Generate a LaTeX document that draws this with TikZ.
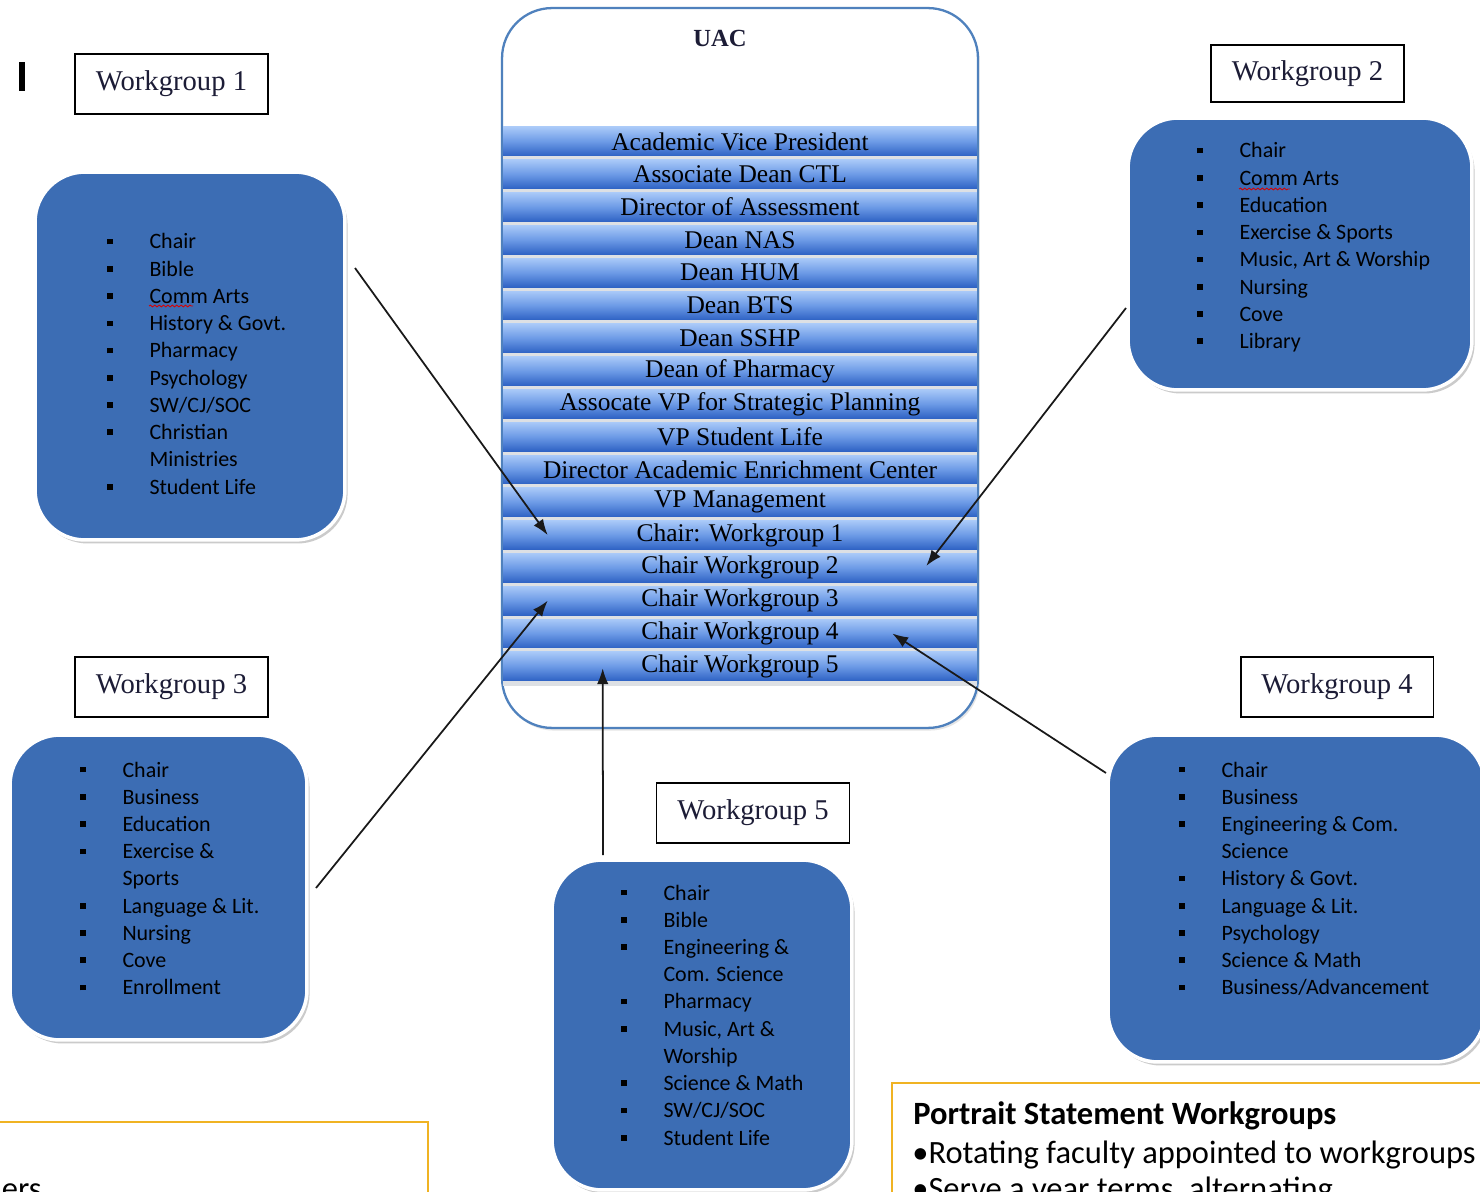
\documentclass[tikz,border=0pt]{standalone}
\usepackage{fontspec}
\setmainfont{Liberation Serif}
\setsansfont{Carlito}
\usetikzlibrary{arrows.meta,calc,positioning,shadows,decorations.pathmorphing}
\definecolor{boxblue}{HTML}{3C6DB4}
\definecolor{uacblue}{HTML}{4F81BD}
\definecolor{stripetop}{HTML}{A9C9F8}
\definecolor{stripemid}{HTML}{6C9AE6}
\definecolor{stripebot}{HTML}{2E62C4}
\definecolor{gapgrey}{HTML}{DDE0E4}
\definecolor{labelink}{HTML}{1C1C36}
\definecolor{psorange}{HTML}{F0B323}
\tikzset{>=Latex,
  wgbox/.style={rounded corners=1cm,fill=boxblue,draw=white,line width=2pt,inner sep=0pt,
    drop shadow={shadow xshift=1.5pt,shadow yshift=-2pt,opacity=.45,fill=black!45}},
  uacbox/.style={rounded corners=1cm,fill=white,draw=uacblue,line width=1.3pt,
    minimum width=9.52cm,minimum height=14.4cm,inner sep=0pt,
    drop shadow={shadow xshift=1pt,shadow yshift=-1.5pt,opacity=.25,fill=black!40}},
  wglabel/.style={draw=black,line width=1.1pt,fill=white,minimum width=3.86cm,minimum height=1.2cm,
    text=labelink,font=\fontsize{16.3}{18}\selectfont},
  stripe/.style={minimum width=9.48cm,minimum height=.58cm,inner sep=0pt,
    top color=stripetop,bottom color=stripebot,middle color=stripemid,
    text=black,font=\fontsize{14.5}{17}\selectfont},
  wglist/.style={anchor=base west,inner sep=0pt,font=\sffamily\fontsize{12.5}{15.5}\selectfont},
  link/.style={-{Latex[length=9pt,width=6.5pt]},line width=1pt,draw=black!90},
  spellmark/.style={draw=red!85!black,line width=.5pt,decorate,
    decoration={snake,amplitude=.5pt,segment length=2.5pt}},
  psbox/.style={draw=psorange,line width=1.2pt},
  pstext/.style={anchor=base west,inner sep=0pt,font=\sffamily\fontsize{18.5}{22}\selectfont}}
\newcommand{\wgitem}[1]{\makebox[24pt][l]{\raisebox{2.6pt}{\rule{3.2pt}{3.2pt}}}#1}
\newcommand{\wgmore}[1]{\hspace*{24pt}#1}

\begin{document}
\begin{tikzpicture}[x=0.02cm,y=-0.02cm]
\useasboundingbox (0,0) rectangle (1480,1192);
\clip (0,0) rectangle (1480,1192);
\fill[white] (0,0) rectangle (1480,1192);
\fill[black] (19,62) rectangle (25,91);
% UAC column
\node[uacbox] (uac) at (740,368) {};
\fill[gapgrey] (503,127) rectangle (977,686);
\foreach \txt [count=\i] in {Academic Vice President,Associate Dean CTL,Director of Assessment,
  Dean NAS,Dean HUM,Dean BTS,Dean SSHP,Dean of Pharmacy,Assocate VP for Strategic Planning,
  VP Student Life,Director Academic Enrichment Center,VP Management,Chair: Workgroup 1,
  Chair Workgroup 2,Chair Workgroup 3,Chair Workgroup 4,Chair Workgroup 5}
  \node[stripe] (row\i) at (740,{141.5+(\i-1)*32.8}) {\txt};
\node[font=\bfseries\fontsize{14}{16}\selectfont,text=labelink] (uactitle) at (720,38) {UAC};
% workgroup labels
\node[wglabel] (wg1) at (171.5,84) {Workgroup 1};
\node[wglabel,minimum height=1.14cm] (wg2) at (1307.5,73.5) {Workgroup 2};
\node[wglabel] (wg3) at (171.5,687) {Workgroup 3};
\node[wglabel] (wg4) at (1337,687) {Workgroup 4};
\node[wglabel] (wg5) at (753,813) {Workgroup 5};
% workgroup boxes
\node[wgbox,minimum width=6.2cm,minimum height=7.36cm] (box1) at (190,356) {};
\node[wgbox,minimum width=6.88cm,minimum height=5.44cm] (box2) at (1300,254) {};
\node[wgbox,minimum width=5.94cm,minimum height=6.1cm] (box3) at (158.5,887.5) {};
\node[wgbox,minimum width=7.54cm,minimum height=6.54cm] (box4) at (1296.5,898.5) {};
\node[wgbox,minimum width=6cm,minimum height=6.6cm] (box5) at (702,1025) {};
\node[wglist] (list1) at (107,249) {\begin{tabular}[t]{@{}l@{}}
  \wgitem{Chair}\\\wgitem{Bible}\\\wgitem{Comm Arts}\\\wgitem{History \& Govt.}\\
  \wgitem{Pharmacy}\\\wgitem{Psychology}\\\wgitem{SW/CJ/SOC}\\\wgitem{Christian}\\
  \wgmore{Ministries}\\\wgitem{Student Life}\end{tabular}};
\node[wglist] (list2) at (1197,158) {\begin{tabular}[t]{@{}l@{}}
  \wgitem{Chair}\\\wgitem{Comm Arts}\\\wgitem{Education}\\\wgitem{Exercise \& Sports}\\
  \wgitem{Music, Art \& Worship}\\\wgitem{Nursing}\\\wgitem{Cove}\\\wgitem{Library}\end{tabular}};
\node[wglist] (list3) at (80,777) {\begin{tabular}[t]{@{}l@{}}
  \wgitem{Chair}\\\wgitem{Business}\\\wgitem{Education}\\\wgitem{Exercise \&}\\
  \wgmore{Sports}\\\wgitem{Language \& Lit.}\\\wgitem{Nursing}\\\wgitem{Cove}\\
  \wgitem{Enrollment}\end{tabular}};
\node[wglist] (list4) at (1179,777) {\begin{tabular}[t]{@{}l@{}}
  \wgitem{Chair}\\\wgitem{Business}\\\wgitem{Engineering \& Com.}\\\wgmore{Science}\\
  \wgitem{History \& Govt.}\\\wgitem{Language \& Lit.}\\\wgitem{Psychology}\\
  \wgitem{Science \& Math}\\\wgitem{Business/Advancement}\end{tabular}};
\node[wglist] (list5) at (621,900) {\begin{tabular}[t]{@{}l@{}}
  \wgitem{Chair}\\\wgitem{Bible}\\\wgitem{Engineering \&}\\\wgmore{Com. Science}\\
  \wgitem{Pharmacy}\\\wgitem{Music, Art \&}\\\wgmore{Worship}\\\wgitem{Science \& Math}\\
  \wgitem{SW/CJ/SOC}\\\wgitem{Student Life}\end{tabular}};
\draw[spellmark] (149,306) -- (193,306);
\draw[spellmark] (1239,189) -- (1290,189);
% connectors
\coordinate (from1) at (355,268);
\coordinate (from2) at (1126,308);
\coordinate (from3) at (316,888);
\coordinate (from4) at (1106,773);
\coordinate (from5) at (603,855);
\coordinate (to1) at ($(row13.west)+(45,0)$);
\coordinate (to2) at ($(row14.east)+(-51,-2)$);
\coordinate (to3) at ($(row15.west)+(45,0)$);
\coordinate (to4) at ($(row16.east)+(-85,0)$);
\coordinate (to5) at ($(row17.west)+(100,2)$);
\foreach \k in {1,...,5} \draw[link] (from\k) -- (to\k);
% statement boxes
\draw[psbox] (-10,1122) rectangle (428,1260);
\node[pstext,anchor=base east] (psleft) at (42,1199) {ners};
\draw[psbox] (892,1083) rectangle (1500,1260);
\node[pstext,font=\sffamily\bfseries\fontsize{18.5}{22}\selectfont] (pstitle) at (913,1124) {Portrait Statement Workgroups};
\node[pstext] (psline1) at (912,1163) {•Rotating faculty appointed to workgroups};
\node[pstext] (psline2) at (912,1199) {•Serve a year terms, alternating};
\end{tikzpicture}
\end{document}
